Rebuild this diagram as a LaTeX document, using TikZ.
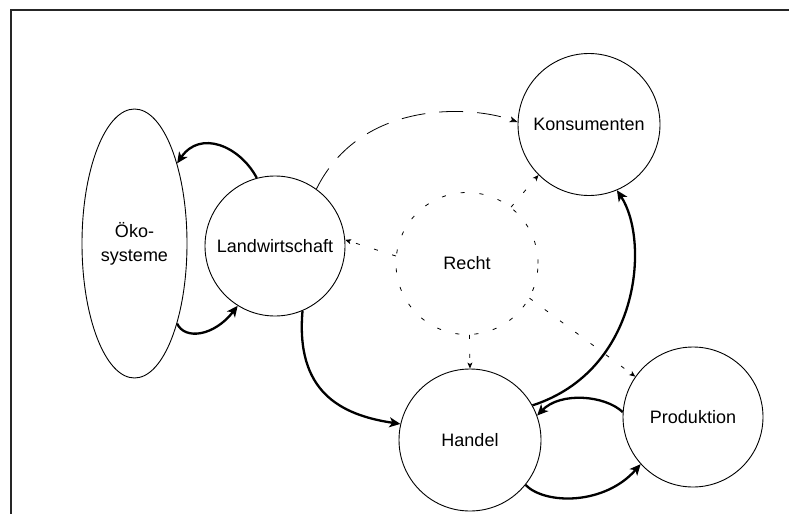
\documentclass[tikz,border=0pt]{standalone}
\usepackage{fontspec}
\setmainfont{Liberation Sans}
\usetikzlibrary{arrows.meta,shapes.geometric}
\begin{document}
\begin{tikzpicture}[x=1pt,y=-1pt,
  lbl/.style={font=\fontsize{18}{24}\selectfont},
  bubble/.style={circle,draw,line width=0.9pt,minimum size=142pt,inner sep=0pt,lbl},
  thickarrow/.style={line width=2.3pt,-{Stealth[length=11pt,width=10pt,inset=3pt]}},
  longdash/.style={line width=0.8pt,dash pattern=on 24pt off 14pt,-{Stealth[length=8pt,width=6pt,inset=2pt]}},
  shortdash/.style={line width=0.8pt,dash pattern=on 4pt off 15pt},
  shortarrow/.style={shortdash,-{Stealth[length=6pt,width=5pt,inset=1.5pt]}}]
\useasboundingbox (0,0) rectangle (789,514);
% frame (top and left only)
\coordinate (fTL) at (11,9.5);
\coordinate (fTR) at (789,9.5);
\coordinate (fBL) at (11,514);
\draw[line width=2pt,black!85] (fTR) -- (fTL) -- (fBL);
% nodes
\node[ellipse,draw,line width=0.9pt,minimum width=105pt,minimum height=269pt,inner sep=0pt,align=center,lbl] (O) at (134.5,243.5) {Öko-\\systeme};
\node[bubble,minimum size=140pt] (L) at (275,246) {Landwirtschaft};
\node[bubble] (K) at (589,124.5) {Konsumenten};
\node[bubble,draw=none] (R) at (467,263.5) {Recht};
\draw[shortdash] (R.center) circle[radius=71pt];
\node[bubble] (H) at (470,440) {Handel};
\node[bubble,minimum size=140pt] (P) at (693,417) {Produktion};
% thick arrows
\draw[thickarrow] (L.105) .. controls +(-17,-32) and +(23,-34) .. (O.62.5);
\draw[thickarrow] (O.-62) .. controls +(8,17) and +(-23,30) .. (L.238);
\draw[thickarrow] (L.-67) .. controls +(-7,80) and +(-61,-9) .. (H.167);
\draw[thickarrow] (H.29) .. controls +(108,-35) and +(33,50) .. (K.-67);
\draw[thickarrow] (P.176) .. controls +(-18,-17) and +(23,-24) .. (H.20);
\draw[thickarrow] (H.-39) .. controls +(20,20) and +(-36,41) .. (P.222);
% dashed arrow
\draw[longdash] (L.54) .. controls +(44,-89) and +(-48,-17) .. (K.178);
% dotted arrows from Recht
\draw[shortarrow] (R.174) -- (L.5.6);
\draw[shortarrow] (R.52) -- (K.225);
\draw[shortarrow] (R.-88) -- (H.90);
\draw[shortarrow] (R.-29) -- (P.145);
\end{tikzpicture}
\end{document}
